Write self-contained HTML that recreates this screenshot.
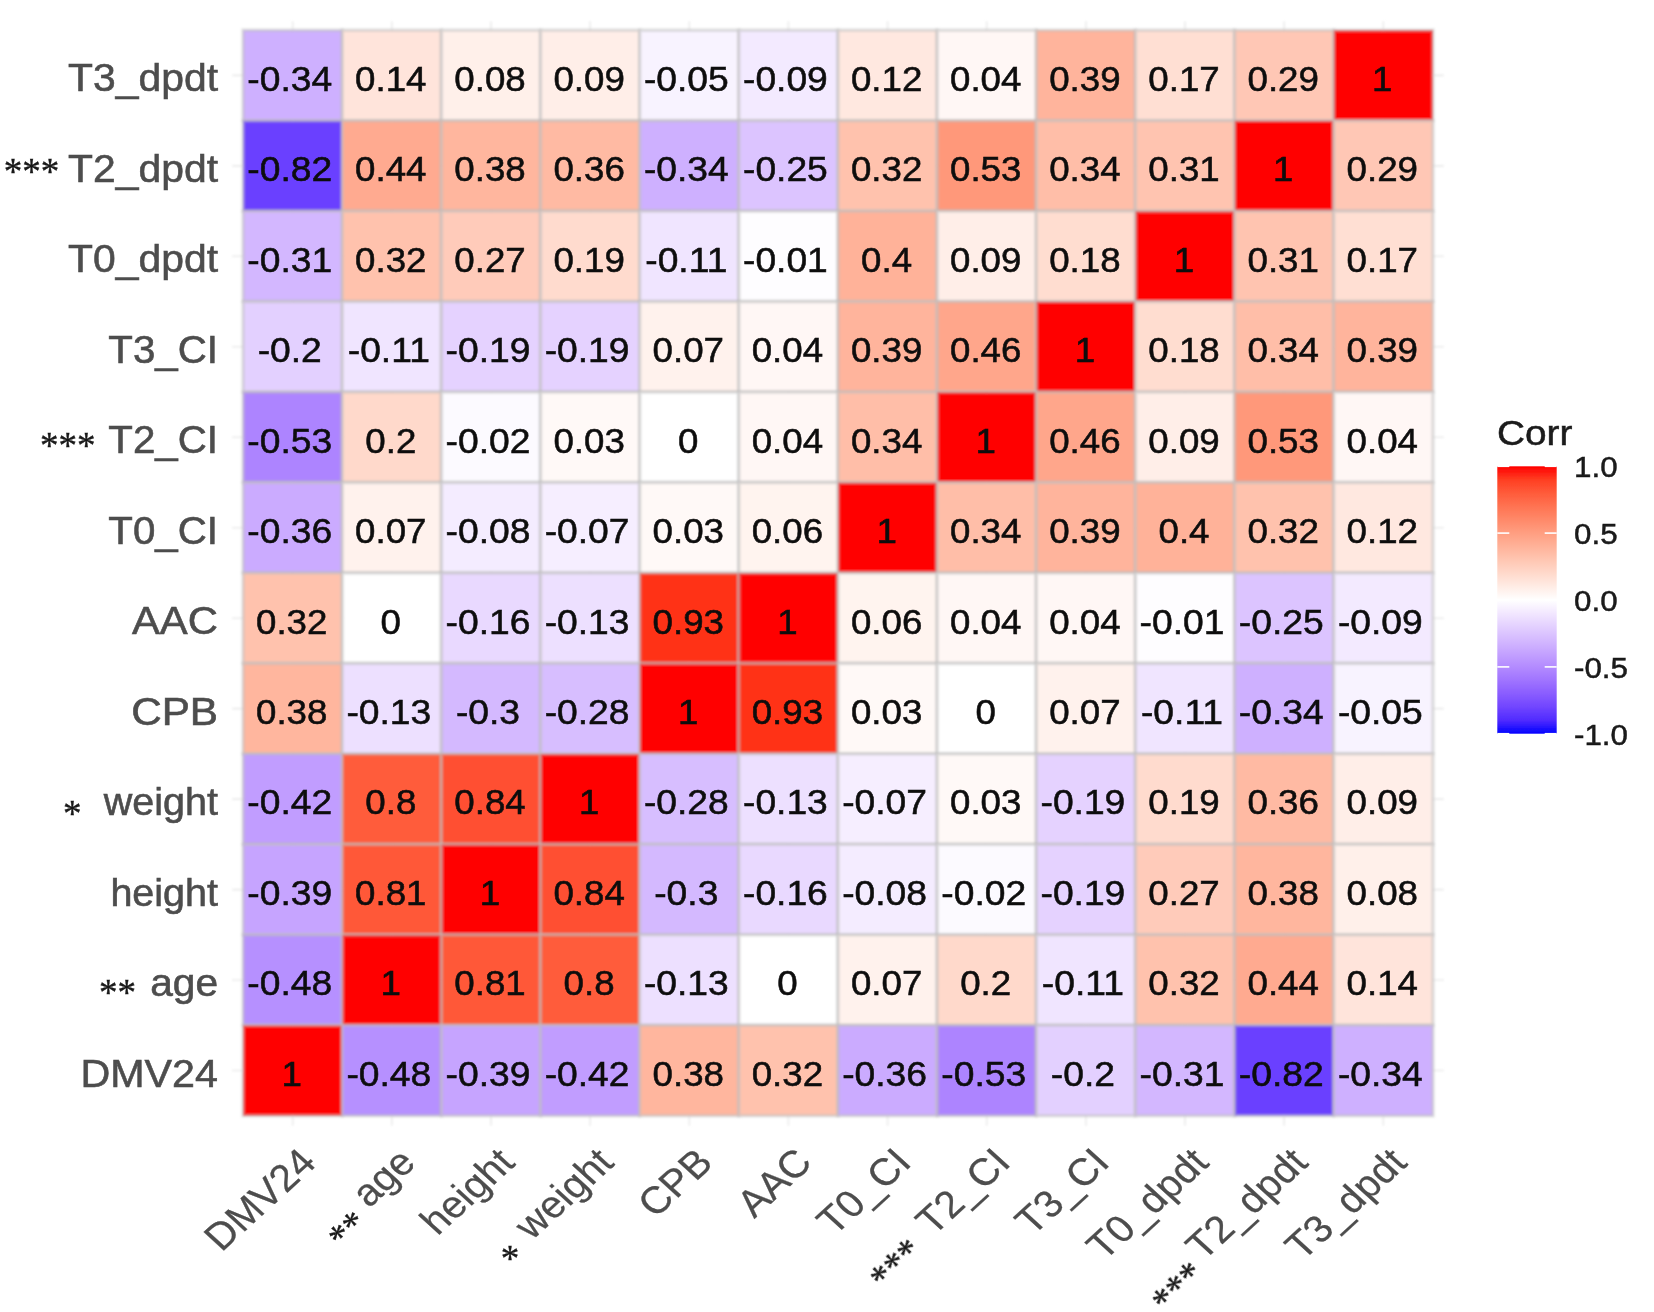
<!DOCTYPE html>
<html lang="en"><head><meta charset="utf-8"><title>Correlation heatmap</title>
<style>html,body{margin:0;padding:0;background:#fff}body{width:1654px;height:1312px;overflow:hidden}svg{display:block}text{font-family:"Liberation Sans",Arial,Helvetica,sans-serif}.c{font-size:35.3px;fill:#0a0a0a;stroke:#0a0a0a;stroke-width:.5px;text-anchor:middle}.yl{font-size:39.5px;fill:#4d4d4d;stroke:#4d4d4d;stroke-width:.6px;text-anchor:end}.xl{font-size:38px;fill:#4d4d4d;stroke:#4d4d4d;stroke-width:.25px;text-anchor:end}.st text{fill:#1a1a1a;stroke:#1a1a1a;stroke-width:.4px;font-family:"Liberation Serif","DejaVu Serif",serif}.lg{font-size:30px;fill:#1a1a1a;stroke:#1a1a1a;stroke-width:.5px}.lt{font-size:34.5px;fill:#1a1a1a;stroke:#1a1a1a;stroke-width:.5px}</style></head><body>
<svg width="1654" height="1312" viewBox="0 0 1654 1312">
<defs><linearGradient id="lgd" x1="0" y1="0" x2="0" y2="1">
<stop offset="0.000" stop-color="#ff0000"/>
<stop offset="0.050" stop-color="#ff3e22"/>
<stop offset="0.100" stop-color="#ff5b3a"/>
<stop offset="0.150" stop-color="#ff7352"/>
<stop offset="0.200" stop-color="#ff8969"/>
<stop offset="0.250" stop-color="#ff9e81"/>
<stop offset="0.300" stop-color="#ffb299"/>
<stop offset="0.350" stop-color="#ffc6b2"/>
<stop offset="0.400" stop-color="#ffd9cb"/>
<stop offset="0.450" stop-color="#ffece5"/>
<stop offset="0.500" stop-color="#ffffff"/>
<stop offset="0.550" stop-color="#f2e7ff"/>
<stop offset="0.600" stop-color="#e3d0ff"/>
<stop offset="0.650" stop-color="#d4b9ff"/>
<stop offset="0.700" stop-color="#c4a2ff"/>
<stop offset="0.750" stop-color="#b38bff"/>
<stop offset="0.800" stop-color="#a074ff"/>
<stop offset="0.850" stop-color="#8a5dff"/>
<stop offset="0.900" stop-color="#7145ff"/>
<stop offset="0.950" stop-color="#502bff"/>
<stop offset="1.000" stop-color="#0000ff"/>
</linearGradient><filter id="bl" x="-5%" y="-5%" width="110%" height="110%"><feGaussianBlur stdDeviation="0.9"/></filter><filter id="bt" x="-5%" y="-5%" width="110%" height="110%"><feGaussianBlur stdDeviation="0.6"/></filter></defs>
<rect width="1654" height="1312" fill="#fff"/>
<g id="chart" filter="url(#bl)">
<g stroke="#ebebeb" stroke-width="1.6">
<line x1="292.7" y1="21.2" x2="292.7" y2="1125.7"/>
<line x1="232.1" y1="75.4" x2="1443.9" y2="75.4"/>
<line x1="391.8" y1="21.2" x2="391.8" y2="1125.7"/>
<line x1="232.1" y1="165.9" x2="1443.9" y2="165.9"/>
<line x1="491.0" y1="21.2" x2="491.0" y2="1125.7"/>
<line x1="232.1" y1="256.3" x2="1443.9" y2="256.3"/>
<line x1="590.1" y1="21.2" x2="590.1" y2="1125.7"/>
<line x1="232.1" y1="346.8" x2="1443.9" y2="346.8"/>
<line x1="689.3" y1="21.2" x2="689.3" y2="1125.7"/>
<line x1="232.1" y1="437.3" x2="1443.9" y2="437.3"/>
<line x1="788.4" y1="21.2" x2="788.4" y2="1125.7"/>
<line x1="232.1" y1="527.7" x2="1443.9" y2="527.7"/>
<line x1="887.6" y1="21.2" x2="887.6" y2="1125.7"/>
<line x1="232.1" y1="618.2" x2="1443.9" y2="618.2"/>
<line x1="986.7" y1="21.2" x2="986.7" y2="1125.7"/>
<line x1="232.1" y1="708.6" x2="1443.9" y2="708.6"/>
<line x1="1085.9" y1="21.2" x2="1085.9" y2="1125.7"/>
<line x1="232.1" y1="799.1" x2="1443.9" y2="799.1"/>
<line x1="1185.0" y1="21.2" x2="1185.0" y2="1125.7"/>
<line x1="232.1" y1="889.6" x2="1443.9" y2="889.6"/>
<line x1="1284.2" y1="21.2" x2="1284.2" y2="1125.7"/>
<line x1="232.1" y1="980.0" x2="1443.9" y2="980.0"/>
<line x1="1383.3" y1="21.2" x2="1383.3" y2="1125.7"/>
<line x1="232.1" y1="1070.5" x2="1443.9" y2="1070.5"/>
</g>
<g stroke="#bebebe" stroke-opacity=".5" stroke-width="3.4">
<rect x="243.10" y="30.20" width="99.15" height="90.46" fill="#ceb0ff"/>
<rect x="342.25" y="30.20" width="99.15" height="90.46" fill="#ffe4db"/>
<rect x="441.40" y="30.20" width="99.15" height="90.46" fill="#fff0ea"/>
<rect x="540.55" y="30.20" width="99.15" height="90.46" fill="#ffeee8"/>
<rect x="639.70" y="30.20" width="99.15" height="90.46" fill="#f8f3ff"/>
<rect x="738.85" y="30.20" width="99.15" height="90.46" fill="#f3eaff"/>
<rect x="838.00" y="30.20" width="99.15" height="90.46" fill="#ffe8e0"/>
<rect x="937.15" y="30.20" width="99.15" height="90.46" fill="#fff7f5"/>
<rect x="1036.30" y="30.20" width="99.15" height="90.46" fill="#ffb49c"/>
<rect x="1135.45" y="30.20" width="99.15" height="90.46" fill="#ffdfd3"/>
<rect x="1234.60" y="30.20" width="99.15" height="90.46" fill="#ffc7b5"/>
<rect x="1333.75" y="30.20" width="99.15" height="90.46" fill="#ff0000"/>
<rect x="243.10" y="120.66" width="99.15" height="90.46" fill="#6b40ff"/>
<rect x="342.25" y="120.66" width="99.15" height="90.46" fill="#ffaa90"/>
<rect x="441.40" y="120.66" width="99.15" height="90.46" fill="#ffb69e"/>
<rect x="540.55" y="120.66" width="99.15" height="90.46" fill="#ffbaa3"/>
<rect x="639.70" y="120.66" width="99.15" height="90.46" fill="#ceb0ff"/>
<rect x="738.85" y="120.66" width="99.15" height="90.46" fill="#dcc4ff"/>
<rect x="838.00" y="120.66" width="99.15" height="90.46" fill="#ffc2ad"/>
<rect x="937.15" y="120.66" width="99.15" height="90.46" fill="#ff987a"/>
<rect x="1036.30" y="120.66" width="99.15" height="90.46" fill="#ffbea8"/>
<rect x="1135.45" y="120.66" width="99.15" height="90.46" fill="#ffc4b0"/>
<rect x="1234.60" y="120.66" width="99.15" height="90.46" fill="#ff0000"/>
<rect x="1333.75" y="120.66" width="99.15" height="90.46" fill="#ffc7b5"/>
<rect x="243.10" y="211.12" width="99.15" height="90.46" fill="#d3b7ff"/>
<rect x="342.25" y="211.12" width="99.15" height="90.46" fill="#ffc2ad"/>
<rect x="441.40" y="211.12" width="99.15" height="90.46" fill="#ffcbba"/>
<rect x="540.55" y="211.12" width="99.15" height="90.46" fill="#ffdbce"/>
<rect x="639.70" y="211.12" width="99.15" height="90.46" fill="#f0e5ff"/>
<rect x="738.85" y="211.12" width="99.15" height="90.46" fill="#fefdff"/>
<rect x="838.00" y="211.12" width="99.15" height="90.46" fill="#ffb299"/>
<rect x="937.15" y="211.12" width="99.15" height="90.46" fill="#ffeee8"/>
<rect x="1036.30" y="211.12" width="99.15" height="90.46" fill="#ffddd0"/>
<rect x="1135.45" y="211.12" width="99.15" height="90.46" fill="#ff0000"/>
<rect x="1234.60" y="211.12" width="99.15" height="90.46" fill="#ffc4b0"/>
<rect x="1333.75" y="211.12" width="99.15" height="90.46" fill="#ffdfd3"/>
<rect x="243.10" y="301.58" width="99.15" height="90.46" fill="#e3d0ff"/>
<rect x="342.25" y="301.58" width="99.15" height="90.46" fill="#f0e5ff"/>
<rect x="441.40" y="301.58" width="99.15" height="90.46" fill="#e5d2ff"/>
<rect x="540.55" y="301.58" width="99.15" height="90.46" fill="#e5d2ff"/>
<rect x="639.70" y="301.58" width="99.15" height="90.46" fill="#fff2ed"/>
<rect x="738.85" y="301.58" width="99.15" height="90.46" fill="#fff7f5"/>
<rect x="838.00" y="301.58" width="99.15" height="90.46" fill="#ffb49c"/>
<rect x="937.15" y="301.58" width="99.15" height="90.46" fill="#ffa68b"/>
<rect x="1036.30" y="301.58" width="99.15" height="90.46" fill="#ff0000"/>
<rect x="1135.45" y="301.58" width="99.15" height="90.46" fill="#ffddd0"/>
<rect x="1234.60" y="301.58" width="99.15" height="90.46" fill="#ffbea8"/>
<rect x="1333.75" y="301.58" width="99.15" height="90.46" fill="#ffb49c"/>
<rect x="243.10" y="392.04" width="99.15" height="90.46" fill="#ad84ff"/>
<rect x="342.25" y="392.04" width="99.15" height="90.46" fill="#ffd9cb"/>
<rect x="441.40" y="392.04" width="99.15" height="90.46" fill="#fcfaff"/>
<rect x="540.55" y="392.04" width="99.15" height="90.46" fill="#fff9f7"/>
<rect x="639.70" y="392.04" width="99.15" height="90.46" fill="#ffffff"/>
<rect x="738.85" y="392.04" width="99.15" height="90.46" fill="#fff7f5"/>
<rect x="838.00" y="392.04" width="99.15" height="90.46" fill="#ffbea8"/>
<rect x="937.15" y="392.04" width="99.15" height="90.46" fill="#ff0000"/>
<rect x="1036.30" y="392.04" width="99.15" height="90.46" fill="#ffa68b"/>
<rect x="1135.45" y="392.04" width="99.15" height="90.46" fill="#ffeee8"/>
<rect x="1234.60" y="392.04" width="99.15" height="90.46" fill="#ff987a"/>
<rect x="1333.75" y="392.04" width="99.15" height="90.46" fill="#fff7f5"/>
<rect x="243.10" y="482.50" width="99.15" height="90.46" fill="#cbabff"/>
<rect x="342.25" y="482.50" width="99.15" height="90.46" fill="#fff2ed"/>
<rect x="441.40" y="482.50" width="99.15" height="90.46" fill="#f4ecff"/>
<rect x="540.55" y="482.50" width="99.15" height="90.46" fill="#f6eeff"/>
<rect x="639.70" y="482.50" width="99.15" height="90.46" fill="#fff9f7"/>
<rect x="738.85" y="482.50" width="99.15" height="90.46" fill="#fff4ef"/>
<rect x="838.00" y="482.50" width="99.15" height="90.46" fill="#ff0000"/>
<rect x="937.15" y="482.50" width="99.15" height="90.46" fill="#ffbea8"/>
<rect x="1036.30" y="482.50" width="99.15" height="90.46" fill="#ffb49c"/>
<rect x="1135.45" y="482.50" width="99.15" height="90.46" fill="#ffb299"/>
<rect x="1234.60" y="482.50" width="99.15" height="90.46" fill="#ffc2ad"/>
<rect x="1333.75" y="482.50" width="99.15" height="90.46" fill="#ffe8e0"/>
<rect x="243.10" y="572.96" width="99.15" height="90.46" fill="#ffc2ad"/>
<rect x="342.25" y="572.96" width="99.15" height="90.46" fill="#ffffff"/>
<rect x="441.40" y="572.96" width="99.15" height="90.46" fill="#e9d9ff"/>
<rect x="540.55" y="572.96" width="99.15" height="90.46" fill="#ede0ff"/>
<rect x="639.70" y="572.96" width="99.15" height="90.46" fill="#ff3219"/>
<rect x="738.85" y="572.96" width="99.15" height="90.46" fill="#ff0000"/>
<rect x="838.00" y="572.96" width="99.15" height="90.46" fill="#fff4ef"/>
<rect x="937.15" y="572.96" width="99.15" height="90.46" fill="#fff7f5"/>
<rect x="1036.30" y="572.96" width="99.15" height="90.46" fill="#fff7f5"/>
<rect x="1135.45" y="572.96" width="99.15" height="90.46" fill="#fefdff"/>
<rect x="1234.60" y="572.96" width="99.15" height="90.46" fill="#dcc4ff"/>
<rect x="1333.75" y="572.96" width="99.15" height="90.46" fill="#f3eaff"/>
<rect x="243.10" y="663.42" width="99.15" height="90.46" fill="#ffb69e"/>
<rect x="342.25" y="663.42" width="99.15" height="90.46" fill="#ede0ff"/>
<rect x="441.40" y="663.42" width="99.15" height="90.46" fill="#d4b9ff"/>
<rect x="540.55" y="663.42" width="99.15" height="90.46" fill="#d7beff"/>
<rect x="639.70" y="663.42" width="99.15" height="90.46" fill="#ff0000"/>
<rect x="738.85" y="663.42" width="99.15" height="90.46" fill="#ff3219"/>
<rect x="838.00" y="663.42" width="99.15" height="90.46" fill="#fff9f7"/>
<rect x="937.15" y="663.42" width="99.15" height="90.46" fill="#ffffff"/>
<rect x="1036.30" y="663.42" width="99.15" height="90.46" fill="#fff2ed"/>
<rect x="1135.45" y="663.42" width="99.15" height="90.46" fill="#f0e5ff"/>
<rect x="1234.60" y="663.42" width="99.15" height="90.46" fill="#ceb0ff"/>
<rect x="1333.75" y="663.42" width="99.15" height="90.46" fill="#f8f3ff"/>
<rect x="243.10" y="753.88" width="99.15" height="90.46" fill="#c19dff"/>
<rect x="342.25" y="753.88" width="99.15" height="90.46" fill="#ff5b3a"/>
<rect x="441.40" y="753.88" width="99.15" height="90.46" fill="#ff5031"/>
<rect x="540.55" y="753.88" width="99.15" height="90.46" fill="#ff0000"/>
<rect x="639.70" y="753.88" width="99.15" height="90.46" fill="#d7beff"/>
<rect x="738.85" y="753.88" width="99.15" height="90.46" fill="#ede0ff"/>
<rect x="838.00" y="753.88" width="99.15" height="90.46" fill="#f6eeff"/>
<rect x="937.15" y="753.88" width="99.15" height="90.46" fill="#fff9f7"/>
<rect x="1036.30" y="753.88" width="99.15" height="90.46" fill="#e5d2ff"/>
<rect x="1135.45" y="753.88" width="99.15" height="90.46" fill="#ffdbce"/>
<rect x="1234.60" y="753.88" width="99.15" height="90.46" fill="#ffbaa3"/>
<rect x="1333.75" y="753.88" width="99.15" height="90.46" fill="#ffeee8"/>
<rect x="243.10" y="844.34" width="99.15" height="90.46" fill="#c6a4ff"/>
<rect x="342.25" y="844.34" width="99.15" height="90.46" fill="#ff5838"/>
<rect x="441.40" y="844.34" width="99.15" height="90.46" fill="#ff0000"/>
<rect x="540.55" y="844.34" width="99.15" height="90.46" fill="#ff5031"/>
<rect x="639.70" y="844.34" width="99.15" height="90.46" fill="#d4b9ff"/>
<rect x="738.85" y="844.34" width="99.15" height="90.46" fill="#e9d9ff"/>
<rect x="838.00" y="844.34" width="99.15" height="90.46" fill="#f4ecff"/>
<rect x="937.15" y="844.34" width="99.15" height="90.46" fill="#fcfaff"/>
<rect x="1036.30" y="844.34" width="99.15" height="90.46" fill="#e5d2ff"/>
<rect x="1135.45" y="844.34" width="99.15" height="90.46" fill="#ffcbba"/>
<rect x="1234.60" y="844.34" width="99.15" height="90.46" fill="#ffb69e"/>
<rect x="1333.75" y="844.34" width="99.15" height="90.46" fill="#fff0ea"/>
<rect x="243.10" y="934.80" width="99.15" height="90.46" fill="#b690ff"/>
<rect x="342.25" y="934.80" width="99.15" height="90.46" fill="#ff0000"/>
<rect x="441.40" y="934.80" width="99.15" height="90.46" fill="#ff5838"/>
<rect x="540.55" y="934.80" width="99.15" height="90.46" fill="#ff5b3a"/>
<rect x="639.70" y="934.80" width="99.15" height="90.46" fill="#ede0ff"/>
<rect x="738.85" y="934.80" width="99.15" height="90.46" fill="#ffffff"/>
<rect x="838.00" y="934.80" width="99.15" height="90.46" fill="#fff2ed"/>
<rect x="937.15" y="934.80" width="99.15" height="90.46" fill="#ffd9cb"/>
<rect x="1036.30" y="934.80" width="99.15" height="90.46" fill="#f0e5ff"/>
<rect x="1135.45" y="934.80" width="99.15" height="90.46" fill="#ffc2ad"/>
<rect x="1234.60" y="934.80" width="99.15" height="90.46" fill="#ffaa90"/>
<rect x="1333.75" y="934.80" width="99.15" height="90.46" fill="#ffe4db"/>
<rect x="243.10" y="1025.26" width="99.15" height="90.46" fill="#ff0000"/>
<rect x="342.25" y="1025.26" width="99.15" height="90.46" fill="#b690ff"/>
<rect x="441.40" y="1025.26" width="99.15" height="90.46" fill="#c6a4ff"/>
<rect x="540.55" y="1025.26" width="99.15" height="90.46" fill="#c19dff"/>
<rect x="639.70" y="1025.26" width="99.15" height="90.46" fill="#ffb69e"/>
<rect x="738.85" y="1025.26" width="99.15" height="90.46" fill="#ffc2ad"/>
<rect x="838.00" y="1025.26" width="99.15" height="90.46" fill="#cbabff"/>
<rect x="937.15" y="1025.26" width="99.15" height="90.46" fill="#ad84ff"/>
<rect x="1036.30" y="1025.26" width="99.15" height="90.46" fill="#e3d0ff"/>
<rect x="1135.45" y="1025.26" width="99.15" height="90.46" fill="#d3b7ff"/>
<rect x="1234.60" y="1025.26" width="99.15" height="90.46" fill="#6b40ff"/>
<rect x="1333.75" y="1025.26" width="99.15" height="90.46" fill="#ceb0ff"/>
</g>
</g>
<g id="labels" filter="url(#bt)">
<g class="c">
<text transform="translate(289.7 90.7) scale(1.055 1)">-0.34</text>
<text transform="translate(390.8 90.7) scale(1.04 1)">0.14</text>
<text transform="translate(490.0 90.7) scale(1.04 1)">0.08</text>
<text transform="translate(589.1 90.7) scale(1.04 1)">0.09</text>
<text transform="translate(686.3 90.7) scale(1.055 1)">-0.05</text>
<text transform="translate(785.4 90.7) scale(1.055 1)">-0.09</text>
<text transform="translate(886.6 90.7) scale(1.04 1)">0.12</text>
<text transform="translate(985.7 90.7) scale(1.04 1)">0.04</text>
<text transform="translate(1084.9 90.7) scale(1.04 1)">0.39</text>
<text transform="translate(1184.0 90.7) scale(1.04 1)">0.17</text>
<text transform="translate(1283.2 90.7) scale(1.04 1)">0.29</text>
<text transform="translate(1382.3 90.7) scale(1.04 1)">1</text>
<text transform="translate(289.7 181.2) scale(1.055 1)">-0.82</text>
<text transform="translate(390.8 181.2) scale(1.04 1)">0.44</text>
<text transform="translate(490.0 181.2) scale(1.04 1)">0.38</text>
<text transform="translate(589.1 181.2) scale(1.04 1)">0.36</text>
<text transform="translate(686.3 181.2) scale(1.055 1)">-0.34</text>
<text transform="translate(785.4 181.2) scale(1.055 1)">-0.25</text>
<text transform="translate(886.6 181.2) scale(1.04 1)">0.32</text>
<text transform="translate(985.7 181.2) scale(1.04 1)">0.53</text>
<text transform="translate(1084.9 181.2) scale(1.04 1)">0.34</text>
<text transform="translate(1184.0 181.2) scale(1.04 1)">0.31</text>
<text transform="translate(1283.2 181.2) scale(1.04 1)">1</text>
<text transform="translate(1382.3 181.2) scale(1.04 1)">0.29</text>
<text transform="translate(289.7 271.6) scale(1.055 1)">-0.31</text>
<text transform="translate(390.8 271.6) scale(1.04 1)">0.32</text>
<text transform="translate(490.0 271.6) scale(1.04 1)">0.27</text>
<text transform="translate(589.1 271.6) scale(1.04 1)">0.19</text>
<text transform="translate(686.3 271.6) scale(1.055 1)">-0.11</text>
<text transform="translate(785.4 271.6) scale(1.055 1)">-0.01</text>
<text transform="translate(886.6 271.6) scale(1.04 1)">0.4</text>
<text transform="translate(985.7 271.6) scale(1.04 1)">0.09</text>
<text transform="translate(1084.9 271.6) scale(1.04 1)">0.18</text>
<text transform="translate(1184.0 271.6) scale(1.04 1)">1</text>
<text transform="translate(1283.2 271.6) scale(1.04 1)">0.31</text>
<text transform="translate(1382.3 271.6) scale(1.04 1)">0.17</text>
<text transform="translate(289.7 362.1) scale(1.055 1)">-0.2</text>
<text transform="translate(388.8 362.1) scale(1.055 1)">-0.11</text>
<text transform="translate(488.0 362.1) scale(1.055 1)">-0.19</text>
<text transform="translate(587.1 362.1) scale(1.055 1)">-0.19</text>
<text transform="translate(688.3 362.1) scale(1.04 1)">0.07</text>
<text transform="translate(787.4 362.1) scale(1.04 1)">0.04</text>
<text transform="translate(886.6 362.1) scale(1.04 1)">0.39</text>
<text transform="translate(985.7 362.1) scale(1.04 1)">0.46</text>
<text transform="translate(1084.9 362.1) scale(1.04 1)">1</text>
<text transform="translate(1184.0 362.1) scale(1.04 1)">0.18</text>
<text transform="translate(1283.2 362.1) scale(1.04 1)">0.34</text>
<text transform="translate(1382.3 362.1) scale(1.04 1)">0.39</text>
<text transform="translate(289.7 452.6) scale(1.055 1)">-0.53</text>
<text transform="translate(390.8 452.6) scale(1.04 1)">0.2</text>
<text transform="translate(488.0 452.6) scale(1.055 1)">-0.02</text>
<text transform="translate(589.1 452.6) scale(1.04 1)">0.03</text>
<text transform="translate(688.3 452.6) scale(1.04 1)">0</text>
<text transform="translate(787.4 452.6) scale(1.04 1)">0.04</text>
<text transform="translate(886.6 452.6) scale(1.04 1)">0.34</text>
<text transform="translate(985.7 452.6) scale(1.04 1)">1</text>
<text transform="translate(1084.9 452.6) scale(1.04 1)">0.46</text>
<text transform="translate(1184.0 452.6) scale(1.04 1)">0.09</text>
<text transform="translate(1283.2 452.6) scale(1.04 1)">0.53</text>
<text transform="translate(1382.3 452.6) scale(1.04 1)">0.04</text>
<text transform="translate(289.7 543.0) scale(1.055 1)">-0.36</text>
<text transform="translate(390.8 543.0) scale(1.04 1)">0.07</text>
<text transform="translate(488.0 543.0) scale(1.055 1)">-0.08</text>
<text transform="translate(587.1 543.0) scale(1.055 1)">-0.07</text>
<text transform="translate(688.3 543.0) scale(1.04 1)">0.03</text>
<text transform="translate(787.4 543.0) scale(1.04 1)">0.06</text>
<text transform="translate(886.6 543.0) scale(1.04 1)">1</text>
<text transform="translate(985.7 543.0) scale(1.04 1)">0.34</text>
<text transform="translate(1084.9 543.0) scale(1.04 1)">0.39</text>
<text transform="translate(1184.0 543.0) scale(1.04 1)">0.4</text>
<text transform="translate(1283.2 543.0) scale(1.04 1)">0.32</text>
<text transform="translate(1382.3 543.0) scale(1.04 1)">0.12</text>
<text transform="translate(291.7 633.5) scale(1.04 1)">0.32</text>
<text transform="translate(390.8 633.5) scale(1.04 1)">0</text>
<text transform="translate(488.0 633.5) scale(1.055 1)">-0.16</text>
<text transform="translate(587.1 633.5) scale(1.055 1)">-0.13</text>
<text transform="translate(688.3 633.5) scale(1.04 1)">0.93</text>
<text transform="translate(787.4 633.5) scale(1.04 1)">1</text>
<text transform="translate(886.6 633.5) scale(1.04 1)">0.06</text>
<text transform="translate(985.7 633.5) scale(1.04 1)">0.04</text>
<text transform="translate(1084.9 633.5) scale(1.04 1)">0.04</text>
<text transform="translate(1182.0 633.5) scale(1.055 1)">-0.01</text>
<text transform="translate(1281.2 633.5) scale(1.055 1)">-0.25</text>
<text transform="translate(1380.3 633.5) scale(1.055 1)">-0.09</text>
<text transform="translate(291.7 723.9) scale(1.04 1)">0.38</text>
<text transform="translate(388.8 723.9) scale(1.055 1)">-0.13</text>
<text transform="translate(488.0 723.9) scale(1.055 1)">-0.3</text>
<text transform="translate(587.1 723.9) scale(1.055 1)">-0.28</text>
<text transform="translate(688.3 723.9) scale(1.04 1)">1</text>
<text transform="translate(787.4 723.9) scale(1.04 1)">0.93</text>
<text transform="translate(886.6 723.9) scale(1.04 1)">0.03</text>
<text transform="translate(985.7 723.9) scale(1.04 1)">0</text>
<text transform="translate(1084.9 723.9) scale(1.04 1)">0.07</text>
<text transform="translate(1182.0 723.9) scale(1.055 1)">-0.11</text>
<text transform="translate(1281.2 723.9) scale(1.055 1)">-0.34</text>
<text transform="translate(1380.3 723.9) scale(1.055 1)">-0.05</text>
<text transform="translate(289.7 814.4) scale(1.055 1)">-0.42</text>
<text transform="translate(390.8 814.4) scale(1.04 1)">0.8</text>
<text transform="translate(490.0 814.4) scale(1.04 1)">0.84</text>
<text transform="translate(589.1 814.4) scale(1.04 1)">1</text>
<text transform="translate(686.3 814.4) scale(1.055 1)">-0.28</text>
<text transform="translate(785.4 814.4) scale(1.055 1)">-0.13</text>
<text transform="translate(884.6 814.4) scale(1.055 1)">-0.07</text>
<text transform="translate(985.7 814.4) scale(1.04 1)">0.03</text>
<text transform="translate(1082.9 814.4) scale(1.055 1)">-0.19</text>
<text transform="translate(1184.0 814.4) scale(1.04 1)">0.19</text>
<text transform="translate(1283.2 814.4) scale(1.04 1)">0.36</text>
<text transform="translate(1382.3 814.4) scale(1.04 1)">0.09</text>
<text transform="translate(289.7 904.9) scale(1.055 1)">-0.39</text>
<text transform="translate(390.8 904.9) scale(1.04 1)">0.81</text>
<text transform="translate(490.0 904.9) scale(1.04 1)">1</text>
<text transform="translate(589.1 904.9) scale(1.04 1)">0.84</text>
<text transform="translate(686.3 904.9) scale(1.055 1)">-0.3</text>
<text transform="translate(785.4 904.9) scale(1.055 1)">-0.16</text>
<text transform="translate(884.6 904.9) scale(1.055 1)">-0.08</text>
<text transform="translate(983.7 904.9) scale(1.055 1)">-0.02</text>
<text transform="translate(1082.9 904.9) scale(1.055 1)">-0.19</text>
<text transform="translate(1184.0 904.9) scale(1.04 1)">0.27</text>
<text transform="translate(1283.2 904.9) scale(1.04 1)">0.38</text>
<text transform="translate(1382.3 904.9) scale(1.04 1)">0.08</text>
<text transform="translate(289.7 995.3) scale(1.055 1)">-0.48</text>
<text transform="translate(390.8 995.3) scale(1.04 1)">1</text>
<text transform="translate(490.0 995.3) scale(1.04 1)">0.81</text>
<text transform="translate(589.1 995.3) scale(1.04 1)">0.8</text>
<text transform="translate(686.3 995.3) scale(1.055 1)">-0.13</text>
<text transform="translate(787.4 995.3) scale(1.04 1)">0</text>
<text transform="translate(886.6 995.3) scale(1.04 1)">0.07</text>
<text transform="translate(985.7 995.3) scale(1.04 1)">0.2</text>
<text transform="translate(1082.9 995.3) scale(1.055 1)">-0.11</text>
<text transform="translate(1184.0 995.3) scale(1.04 1)">0.32</text>
<text transform="translate(1283.2 995.3) scale(1.04 1)">0.44</text>
<text transform="translate(1382.3 995.3) scale(1.04 1)">0.14</text>
<text transform="translate(291.7 1085.8) scale(1.04 1)">1</text>
<text transform="translate(388.8 1085.8) scale(1.055 1)">-0.48</text>
<text transform="translate(488.0 1085.8) scale(1.055 1)">-0.39</text>
<text transform="translate(587.1 1085.8) scale(1.055 1)">-0.42</text>
<text transform="translate(688.3 1085.8) scale(1.04 1)">0.38</text>
<text transform="translate(787.4 1085.8) scale(1.04 1)">0.32</text>
<text transform="translate(884.6 1085.8) scale(1.055 1)">-0.36</text>
<text transform="translate(983.7 1085.8) scale(1.055 1)">-0.53</text>
<text transform="translate(1082.9 1085.8) scale(1.055 1)">-0.2</text>
<text transform="translate(1182.0 1085.8) scale(1.055 1)">-0.31</text>
<text transform="translate(1281.2 1085.8) scale(1.055 1)">-0.82</text>
<text transform="translate(1380.3 1085.8) scale(1.055 1)">-0.34</text>
</g>
<g class="yl">
<text transform="translate(218.0 91.4) scale(1.035 1)">T3_dpdt</text>
<text transform="translate(218.0 181.9) scale(1.035 1)">T2_dpdt</text>
<text transform="translate(218.0 272.3) scale(1.035 1)">T0_dpdt</text>
<text transform="translate(218.0 362.8) scale(1.02 1)">T3_CI</text>
<text transform="translate(218.0 453.3) scale(1.02 1)">T2_CI</text>
<text transform="translate(218.0 543.7) scale(1.02 1)">T0_CI</text>
<text transform="translate(218.0 634.2) scale(1.06 1)">AAC</text>
<text transform="translate(218.0 724.6) scale(1.07 1)">CPB</text>
<text transform="translate(218.0 815.1) scale(1.0 1)">weight</text>
<text transform="translate(218.0 905.6) scale(1.0 1)">height</text>
<text transform="translate(218.0 996.0) scale(1.03 1)">age</text>
<text transform="translate(218.0 1086.5) scale(1.045 1)">DMV24</text>
</g>
<g class="st" font-size="37" text-anchor="middle">
<text x="31.4" y="183.6">***</text>
<text x="67.7" y="457.9">***</text>
<text x="72.2" y="826.2">*</text>
<text x="117.6" y="1004.8">**</text>
</g>
<g class="xl">
<text transform="translate(318.2 1164.5) scale(1.096 1) rotate(-45) scale(0.985 1)">DMV24</text>
<text transform="translate(417.3 1164.5) scale(1.096 1) rotate(-45) scale(0.985 1)">age</text>
<text transform="translate(516.5 1164.5) scale(1.096 1) rotate(-45) scale(0.985 1)">height</text>
<text transform="translate(615.6 1164.5) scale(1.096 1) rotate(-45) scale(0.985 1)">weight</text>
<text transform="translate(714.8 1164.5) scale(1.096 1) rotate(-45) scale(0.985 1)">CPB</text>
<text transform="translate(813.9 1164.5) scale(1.096 1) rotate(-45) scale(0.985 1)">AAC</text>
<text transform="translate(913.1 1164.5) scale(1.096 1) rotate(-45) scale(0.985 1)">T0_CI</text>
<text transform="translate(1012.2 1164.5) scale(1.096 1) rotate(-45) scale(0.985 1)">T2_CI</text>
<text transform="translate(1111.4 1164.5) scale(1.096 1) rotate(-45) scale(0.985 1)">T3_CI</text>
<text transform="translate(1210.5 1164.5) scale(1.096 1) rotate(-45) scale(0.985 1)">T0_dpdt</text>
<text transform="translate(1309.7 1164.5) scale(1.096 1) rotate(-45) scale(0.985 1)">T2_dpdt</text>
<text transform="translate(1408.8 1164.5) scale(1.096 1) rotate(-45) scale(0.985 1)">T3_dpdt</text>
</g>
<g class="st" font-size="37" text-anchor="middle">
<text transform="translate(343.7 1226.0) rotate(-43)" x="0" y="17.6">**</text>
<text transform="translate(510.0 1253.4) rotate(0)" x="0" y="17.6">*</text>
<text transform="translate(892.0 1260.5) rotate(-44)" x="0" y="17.6">***</text>
<text transform="translate(1174.0 1283.5) rotate(-44)" x="0" y="17.6">***</text>
</g>
<text class="lt" transform="translate(1497 444.6) scale(1.125 1)">Corr</text>
<rect x="1497.3" y="466.3" width="59.4" height="267.4" fill="url(#lgd)"/>
<g stroke="#fff" stroke-width="1.6">
<line x1="1497.3" y1="466.3" x2="1509.3" y2="466.3"/>
<line x1="1544.7" y1="466.3" x2="1556.7" y2="466.3"/>
<line x1="1497.3" y1="533.1" x2="1509.3" y2="533.1"/>
<line x1="1544.7" y1="533.1" x2="1556.7" y2="533.1"/>
<line x1="1497.3" y1="600.0" x2="1509.3" y2="600.0"/>
<line x1="1544.7" y1="600.0" x2="1556.7" y2="600.0"/>
<line x1="1497.3" y1="666.9" x2="1509.3" y2="666.9"/>
<line x1="1544.7" y1="666.9" x2="1556.7" y2="666.9"/>
<line x1="1497.3" y1="733.7" x2="1509.3" y2="733.7"/>
<line x1="1544.7" y1="733.7" x2="1556.7" y2="733.7"/>
</g>
<g class="lg">
<text transform="translate(1574 477.3) scale(1.045 1)">1.0</text>
<text transform="translate(1574 544.1) scale(1.045 1)">0.5</text>
<text transform="translate(1574 611.0) scale(1.045 1)">0.0</text>
<text transform="translate(1574 677.9) scale(1.045 1)">-0.5</text>
<text transform="translate(1574 744.7) scale(1.045 1)">-1.0</text>
</g>
</g></svg></body></html>
